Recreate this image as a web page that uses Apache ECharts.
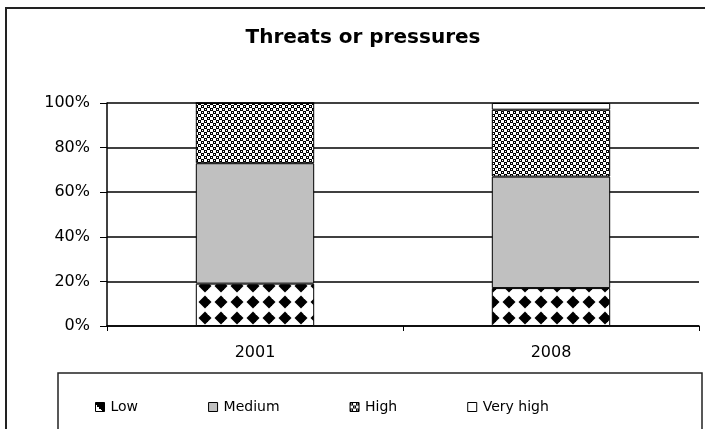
<!DOCTYPE html>
<html><head><meta charset="utf-8">
<script src="https://cdn.jsdelivr.net/npm/echarts@6/dist/echarts.min.js"></script>
<style>html,body{margin:0;padding:0;background:#fff}#c{width:705px;height:429px}</style>
</head><body><div id="c"></div>
<script>
const categories = ['2001', '2008'];
const seriesNames = ['Low', 'Medium', 'High', 'Very high'];
const low = [19, 17];
const medium = [54, 50];
const high = [27, 30];
const veryHigh = [0, 3];
const yTicks = [0, 20, 40, 60, 80, 100];

function makeCanvas(w, h, draw) {
  const c = document.createElement('canvas');
  c.width = w; c.height = h;
  const ctx = c.getContext('2d');
  ctx.fillStyle = '#fff'; ctx.fillRect(0, 0, w, h);
  draw(ctx);
  return c;
}
function diamond(ctx, cx, cy, r) {
  ctx.beginPath();
  ctx.moveTo(cx, cy - r); ctx.lineTo(cx + r, cy); ctx.lineTo(cx, cy + r); ctx.lineTo(cx - r, cy); ctx.closePath();
  ctx.fill();
}
const diamondTile = makeCanvas(16, 16, ctx => {
  ctx.fillStyle = '#000';
  const cx = 13, cy = 14, r = 6.5;
  for (const dx of [-16, 0, 16]) for (const dy of [-16, 0, 16]) diamond(ctx, cx + dx, cy + dy, r);
});
const checkTile = makeCanvas(6, 6, ctx => {
  ctx.fillStyle = '#000';
  ctx.fillRect(0, 0, 3, 3); ctx.fillRect(3, 3, 3, 3);
  ctx.fillStyle = '#fff';
  ctx.fillRect(1, 1, 1, 1); ctx.fillRect(4, 4, 1, 1);
});
const fills = [
  { image: diamondTile, repeat: 'repeat' },
  '#c0c0c0',
  { image: checkTile, repeat: 'repeat' },
  '#ffffff'
];
const lowIcon = {
  type: 'linear', x: 1, y: 0, x2: 0, y2: 1,
  colorStops: [{ offset: 0, color: '#000' }, { offset: 0.6, color: '#000' }, { offset: 0.6, color: '#fff' }, { offset: 1, color: '#fff' }]
};
const dataSets = [low, medium, high, veryHigh];

const chart = echarts.init(document.getElementById('c'), null, { renderer: 'canvas' });
const font = '"DejaVu Sans", sans-serif';
chart.setOption({
  animation: false,
  backgroundColor: '#fff',
  title: {
    text: 'Threats or pressures', left: 358, top: 23, textAlign: 'center',
    textStyle: { fontFamily: font, fontWeight: 'bold', fontSize: 20, color: '#000' }
  },
  grid: { left: 107, right: 6, top: 103, bottom: 103 },
  legend: {
    data: seriesNames.map((n, i) => i === 0 ? { name: n, itemStyle: { color: lowIcon } } : n),
    left: 90, top: 395, itemGap: 70, itemWidth: 9, itemHeight: 9,
    icon: 'rect',
    itemStyle: { borderColor: '#000', borderWidth: 1 },
    textStyle: { fontFamily: font, fontSize: 14, color: '#000', padding: [0, 0, 0, 1] }
  },
  xAxis: {
    type: 'category', data: categories,
    axisLine: { lineStyle: { color: '#000', width: 1.5 } },
    axisTick: { show: true, length: 5, alignWithLabel: false, lineStyle: { color: '#000' } },
    axisLabel: { fontFamily: font, fontSize: 16, color: '#000', margin: 19 }
  },
  yAxis: {
    type: 'value', min: 0, max: 100, interval: 20,
    axisLine: { show: true, lineStyle: { color: '#000', width: 1.5 } },
    axisTick: { show: true, length: 7, lineStyle: { color: '#000' } },
    axisLabel: { fontFamily: font, fontSize: 16, color: '#000', margin: 17, formatter: v => yTicks.includes(v) ? v + '%' : '' },
    splitLine: { show: true, lineStyle: { color: '#000', width: 1.5 } }
  },
  series: seriesNames.map((n, i) => ({
    name: n, type: 'bar', stack: 'all', barWidth: '40%',
    data: dataSets[i],
    itemStyle: { color: fills[i], borderColor: '#000', borderWidth: 1 }
  })),
  graphic: [
    { type: 'rect', shape: { x: 6, y: 8, width: 720, height: 440 }, style: { fill: 'none', stroke: '#222', lineWidth: 2 }, silent: true },
    { type: 'rect', shape: { x: 58, y: 373, width: 644, height: 100 }, style: { fill: 'none', stroke: '#222', lineWidth: 1.5 }, silent: true }
  ]
});
</script></body></html>
